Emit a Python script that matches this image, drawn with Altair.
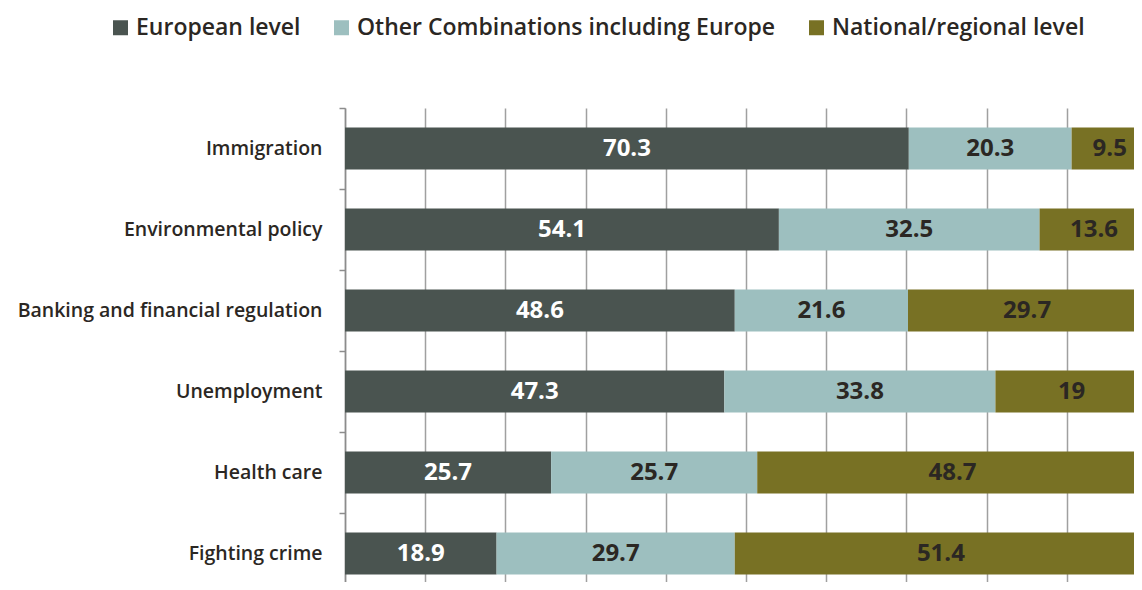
import altair as alt
import pandas as pd

categories = ["Immigration", "Environmental policy", "Banking and financial regulation",
              "Unemployment", "Health care", "Fighting crime"]
series = ["European level", "Other Combinations including Europe", "National/regional level"]
european = [70.3, 54.1, 48.6, 47.3, 25.7, 18.9]
other = [20.3, 32.5, 21.6, 33.8, 25.7, 29.7]
national = [9.5, 13.6, 29.7, 19, 48.7, 51.4]
colors = ["#4a5450", "#9dbfbf", "#787124"]
label_colors = ["#ffffff", "#2b2723", "#2b2723"]

rows = []
for i, c in enumerate(categories):
    for j, (s, vals) in enumerate(zip(series, [european, other, national])):
        rows.append({"category": c, "series": s, "value": vals[i], "order": j,
                     "labelColor": label_colors[j], "label": f"{vals[i]:g}"})
df = pd.DataFrame(rows)

FONT = "Open Sans"

base = alt.Chart(df).transform_stack(
    stack="value", groupby=["category"], sort=[alt.SortField("order")], as_=["x0", "x1"]
).transform_calculate(mid="(datum.x0 + datum.x1) / 2")

yscale = alt.Scale(paddingInner=0, paddingOuter=0, range=[0, 486])
yenc = alt.Y("category:N", sort=categories, title=None, scale=yscale,
             axis=alt.Axis(tickBand="extent", domainColor="#8c8c8c", domainWidth=1.5,
                           tickColor="#8c8c8c", tickWidth=1.5, tickSize=6,
                           labelPadding=17, labelFont=FONT, labelFontSize=19.5,
                           labelFontWeight=600, labelColor="#2b2723", labelLimit=400))

xscale = alt.Scale(domain=[0, 100], nice=False, range=[0, 802])

bars = base.mark_bar(height=alt.RelativeBandSize(0.52)).encode(
    x=alt.X("x0:Q", scale=xscale, title=None,
            axis=alt.Axis(orient="top", values=list(range(0, 101, 10)), labels=False,
                          ticks=False, domain=False, grid=True,
                          gridColor="#a0a0a0", gridWidth=1.5)),
    x2="x1:Q",
    y=yenc,
    color=alt.Color("series:N", sort=series,
                    scale=alt.Scale(domain=series, range=colors),
                    legend=alt.Legend(orient="none", direction="horizontal",
                                      legendX=-236, legendY=-92, title=None,
                                      symbolType="square", symbolSize=225,
                                      symbolStrokeWidth=0, symbolOpacity=1,
                                      labelFont=FONT, labelFontSize=23,
                                      labelFontWeight=600, labelColor="#2b2723",
                                      labelOffset=4, columnPadding=29,
                                      labelLimit=600)),
)

texts = base.mark_text(font=FONT, fontSize=24, fontWeight="bold").encode(
    x=alt.X("mid:Q", scale=xscale),
    y=alt.Y("category:N", sort=categories, scale=yscale),
    text="label:N",
    color=alt.Color("labelColor:N", scale=None),
)

chart = alt.layer(bars, texts).properties(
    width=789, height=474,
    autosize=alt.AutoSizeParams(type="none"),
    padding={"left": 337, "top": 100, "right": 0, "bottom": 0},
).configure_view(stroke=None).configure_axis(gridOpacity=1)

chart.save("out.html", embed_options={"renderer": "svg", "actions": False})
